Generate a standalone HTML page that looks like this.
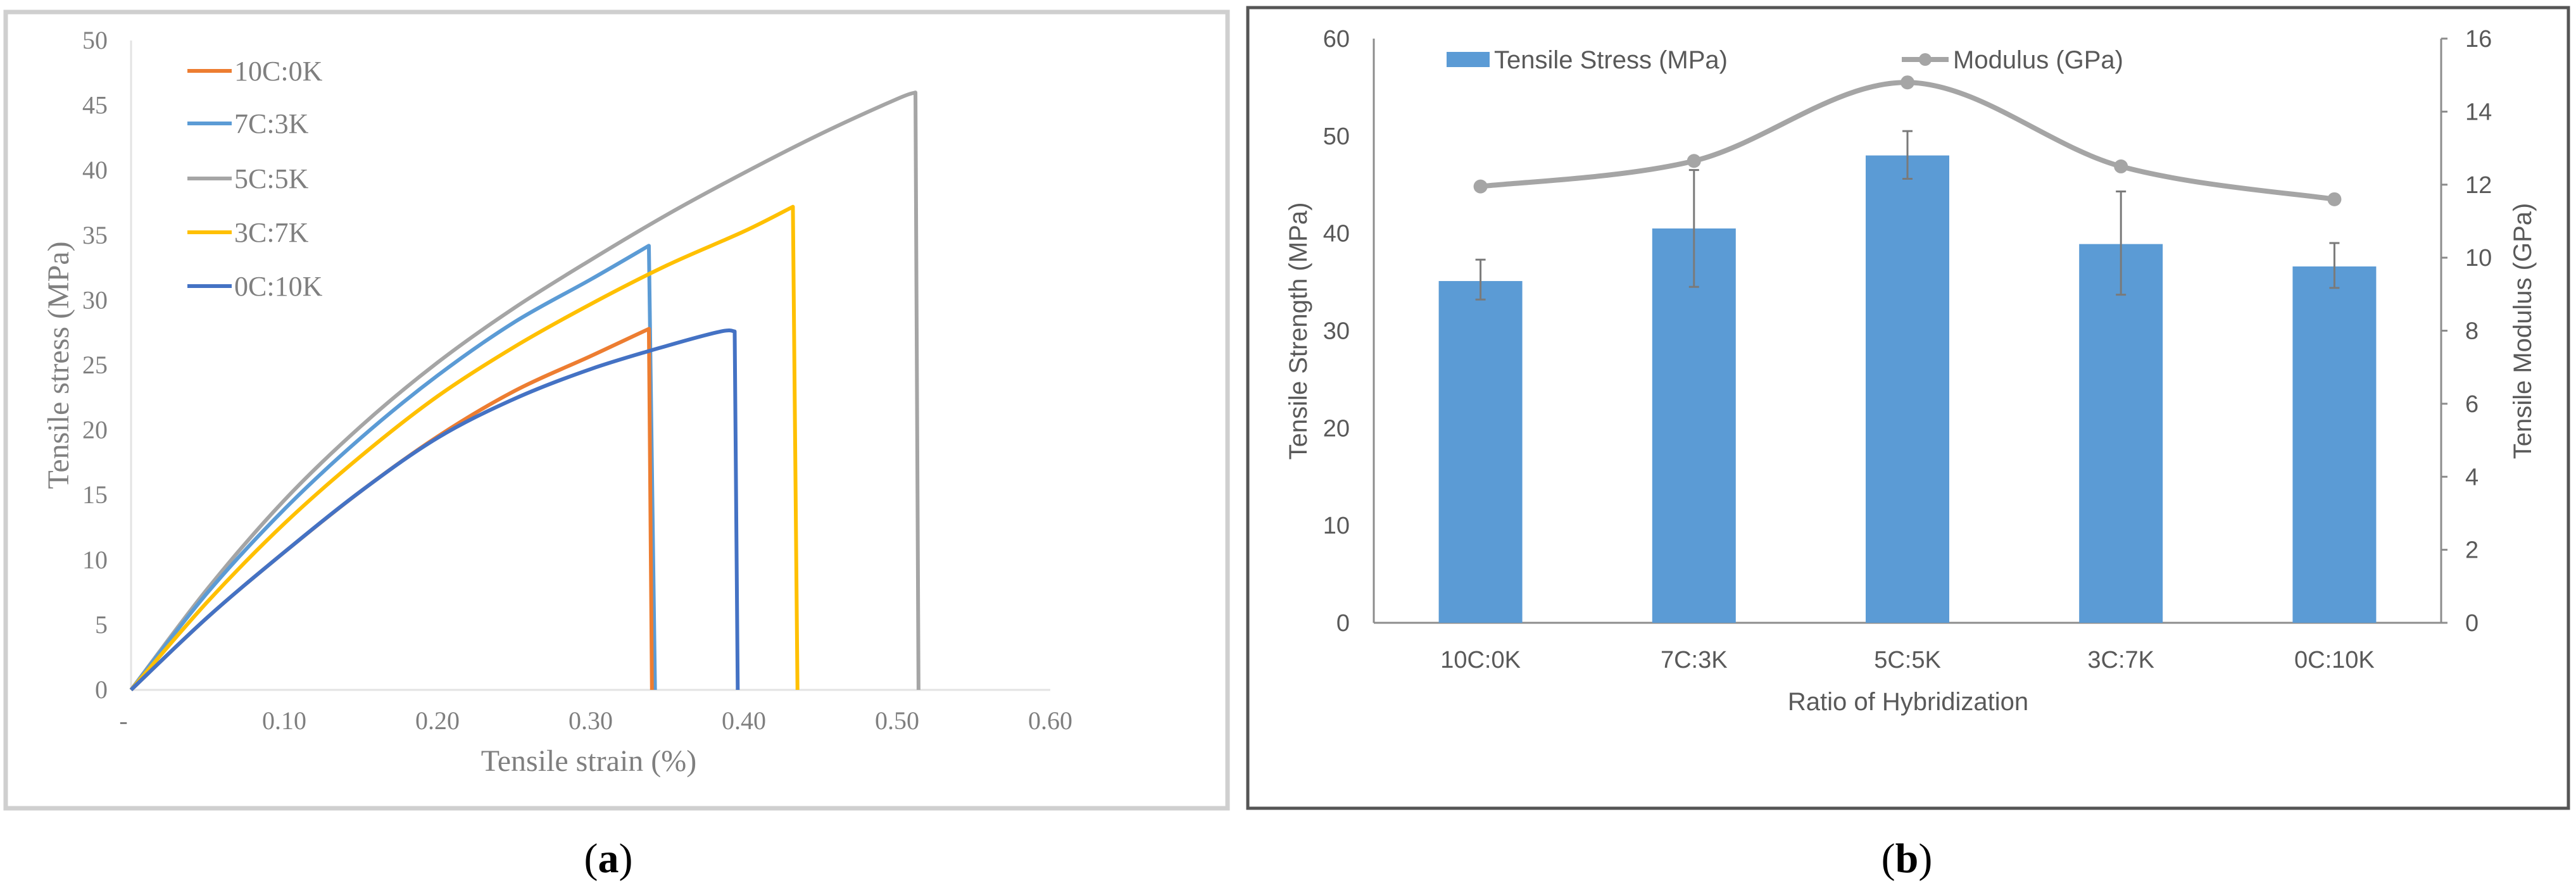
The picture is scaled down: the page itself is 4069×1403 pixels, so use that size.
<!DOCTYPE html>
<html><head><meta charset="utf-8"><style>
html,body{margin:0;padding:0;background:#fff;}
svg{display:block;}
.serif{font-family:"Liberation Serif",serif;fill:#7f7f7f;}
.sans{font-family:"Liberation Sans Narrow","Liberation Sans",sans-serif;fill:#595959;}
</style></head><body>
<svg id="fig" width="4069" height="1403" viewBox="0 0 4069 1403" xmlns="http://www.w3.org/2000/svg">
<rect x="9" y="19" width="1930" height="1258" fill="#fff" stroke="#cfcfcf" stroke-width="7"/>
<rect x="1971" y="12" width="2086" height="1265" fill="#fff" stroke="#555" stroke-width="5"/>
<g id="pa"></g>
<g id="pb"></g>
<text x="961" y="1378" text-anchor="middle" font-family="Liberation Serif,serif" font-size="66" fill="#000">(<tspan font-weight="bold">a</tspan>)</text>
<text x="3012" y="1378" text-anchor="middle" font-family="Liberation Serif,serif" font-size="66" fill="#000">(<tspan font-weight="bold">b</tspan>)</text>
</svg>
<script>
// ---------- Panel A data ----------
const aNames = ["10C:0K","7C:3K","5C:5K","3C:7K","0C:10K"];
const aColors = ["#ED7D31","#5B9BD5","#A5A5A5","#FFC000","#4472C4"];
const aStrain10C = [0,0.05,0.1,0.15,0.2,0.25,0.3,0.338,0.340];
const aStress10C = [0,5.6,10.6,15.3,19.5,23.0,25.7,27.8,0];
const aStrain7C = [0,0.05,0.1,0.15,0.2,0.25,0.3,0.338,0.342];
const aStress7C = [0,7.5,13.9,19.4,24.2,28.3,31.6,34.2,0];
const aStrain5C = [0,0.05,0.1,0.15,0.2,0.25,0.3,0.35,0.4,0.45,0.5,0.512,0.514];
const aStress5C = [0,7.8,14.6,20.3,25.2,29.4,33.1,36.6,39.8,42.8,45.5,46.0,0];
const aStrain3C = [0,0.05,0.1,0.15,0.2,0.25,0.3,0.35,0.4,0.432,0.435];
const aStress3C = [0,6.8,12.8,18.0,22.6,26.4,29.7,32.7,35.3,37.2,0];
const aStrain0C = [0,0.05,0.1,0.15,0.2,0.25,0.3,0.35,0.385,0.394,0.396];
const aStress0C = [0,5.6,10.6,15.3,19.4,22.4,24.7,26.5,27.6,27.6,0];
const aYTicks = [0,5,10,15,20,25,30,35,40,45,50];
const aXTicks = [0,0.1,0.2,0.3,0.4,0.5,0.6];
const aXTickLabels = ["-","0.10","0.20","0.30","0.40","0.50","0.60"];

// ---------- Panel B data ----------
const bCats = ["10C:0K","7C:3K","5C:5K","3C:7K","0C:10K"];
const bStress = [35.1,40.5,48.0,38.9,36.6];
const bErrLow = [33.2,34.5,45.6,33.7,34.4];
const bErrHigh = [37.3,46.5,50.5,44.3,39.0];
const bModulus = [11.95,12.65,14.8,12.5,11.6];
const bLeftTicks = [0,10,20,30,40,50,60];
const bRightTicks = [0,2,4,6,8,10,12,14,16];

const NS="http://www.w3.org/2000/svg";
function mk(tag,attrs,parent,txt){const e=document.createElementNS(NS,tag);for(const k in attrs)e.setAttribute(k,attrs[k]);if(txt!==undefined)e.textContent=txt;parent.appendChild(e);return e;}
function smoothPath(pts,drop){let d='M'+pts[0][0]+' '+pts[0][1];
 const n=drop?pts.length-1:pts.length;
 for(let i=0;i<n-1;i++){const p0=pts[Math.max(0,i-1)],p1=pts[i],p2=pts[i+1],p3=pts[Math.min(n-1,i+2)];
  d+=' C'+(p1[0]+(p2[0]-p0[0])/6)+' '+(p1[1]+(p2[1]-p0[1])/6)+' '+(p2[0]-(p3[0]-p1[0])/6)+' '+(p2[1]-(p3[1]-p1[1])/6)+' '+p2[0]+' '+p2[1];}
 if(drop)d+=' L'+pts[n][0]+' '+pts[n][1];return d;}

// Panel A
(function(){
const g=document.getElementById('pa');
const x=v=>207+v*(1659-207)/0.6;
const y=v=>1090-v*(1090-64)/50;
const ax1=mk('line',{x1:x(0),y1:y(0),x2:x(0),y2:y(50),stroke:'#e3e3e3','stroke-width':3},g);


const ax2=mk('line',{x1:x(0),y1:y(0),x2:x(0.6),y2:y(0),stroke:'#e3e3e3','stroke-width':3},g);


aYTicks.forEach(t=>{const e=mk('text',{x:170,y:y(t)+13,'text-anchor':'end','font-size':40,class:'serif'},g,String(t));

});
aXTicks.forEach((t,i)=>{const e=mk('text',{x:x(t)-(i===0?12:0),y:1152,'text-anchor':'middle','font-size':40,class:'serif'},g,aXTickLabels[i]);

});
const xt=mk('text',{x:930,y:1218,'text-anchor':'middle','font-size':48,class:'serif'},g,'Tensile strain (%)');


const yt=mk('text',{x:0,y:0,'text-anchor':'middle','font-size':48,class:'serif',transform:'translate(108,577) rotate(-90)'},g,'Tensile stress (MPa)');


const xs=[aStrain10C,aStrain7C,aStrain5C,aStrain3C,aStrain0C];
const ys=[aStress10C,aStress7C,aStress5C,aStress3C,aStress0C];
[2,1,3,0,4].forEach(s=>{const pts=xs[s].map((v,i)=>[x(v),y(ys[s][i])]);
 const p=mk('path',{d:smoothPath(pts,true),fill:'none',stroke:aColors[s],'stroke-width':6,'stroke-linejoin':'round'},g);
 
 });
const ly=[112,195,282,367,452];
aNames.forEach((n,i)=>{const l=mk('line',{x1:296,y1:ly[i],x2:366,y2:ly[i],stroke:aColors[i],'stroke-width':6},g);
 
 
 const t=mk('text',{x:370,y:ly[i]+15,'font-size':44,class:'serif'},g,n);
 
 });
})();

// Panel B
(function(){
const g=document.getElementById('pb');
const x0=2170,x1=3856;
const cx=i=>x0+(i+0.5)*(x1-x0)/bCats.length;
const yL=v=>984-v*(984-61)/60;
const yR=v=>984-v*(984-61)/16;
const a1=mk('line',{x1:x0,y1:61,x2:x0,y2:984,stroke:'#8c8c8c','stroke-width':3},g);


const a2=mk('line',{x1:x0,y1:984,x2:x1,y2:984,stroke:'#8c8c8c','stroke-width':3},g);


const a3=mk('line',{x1:x1,y1:61,x2:x1,y2:984,stroke:'#8c8c8c','stroke-width':3},g);


bLeftTicks.forEach(t=>{const e=mk('text',{x:2132,y:yL(t)+13,'text-anchor':'end','font-size':38,class:'sans'},g,String(t));
 
 });
bRightTicks.forEach(t=>{const k=mk('line',{x1:x1,y1:yR(t),x2:x1+10,y2:yR(t),stroke:'#8c8c8c','stroke-width':3},g);
 
 
 const e=mk('text',{x:3894,y:yR(t)+13,'font-size':38,class:'sans'},g,String(t));
 
 });
bCats.forEach((c,i)=>{const r=mk('rect',{x:cx(i)-66,y:yL(bStress[i]),width:132,height:984-yL(bStress[i]),fill:'#5B9BD5'},g);
 
 
 const eb=mk('path',{d:'M'+cx(i)+' '+yL(bErrLow[i])+' V'+yL(bErrHigh[i])+' M'+(cx(i)-8)+' '+yL(bErrLow[i])+' h16 M'+(cx(i)-8)+' '+yL(bErrHigh[i])+' h16',stroke:'#7a7a7a','stroke-width':3,fill:'none'},g);
 
 
 const t=mk('text',{x:cx(i),y:1055,'text-anchor':'middle','font-size':38,class:'sans'},g,c);
 
 });
const pts=bModulus.map((v,i)=>[cx(i),yR(v)]);
const ml=mk('path',{d:smoothPath(pts,false),fill:'none',stroke:'#a5a5a5','stroke-width':8},g);


pts.forEach(p=>{const c=mk('circle',{cx:p[0],cy:p[1],r:11,fill:'#a5a5a5'},g);
 
 });
const lr=mk('rect',{x:2285,y:82,width:68,height:24,fill:'#5B9BD5'},g);


const lt=mk('text',{x:2360,y:108,'font-size':40,class:'sans'},g,'Tensile Stress (MPa)');


const ll=mk('line',{x1:3004,y1:94,x2:3078,y2:94,stroke:'#a5a5a5','stroke-width':8},g);


const lc=mk('circle',{cx:3041,cy:94,r:10,fill:'#a5a5a5'},g);


const lt2=mk('text',{x:3085,y:108,'font-size':40,class:'sans'},g,'Modulus (GPa)');


const xt=mk('text',{x:3014,y:1122,'text-anchor':'middle','font-size':40,class:'sans'},g,'Ratio of Hybridization');


const yt=mk('text',{x:0,y:0,'text-anchor':'middle','font-size':40,class:'sans',transform:'translate(2064,523) rotate(-90)'},g,'Tensile Strength (MPa)');


const yt2=mk('text',{x:0,y:0,'text-anchor':'middle','font-size':40,class:'sans',transform:'translate(3998,523) rotate(-90)'},g,'Tensile Modulus (GPa)');


})();
</script>
</body></html>
